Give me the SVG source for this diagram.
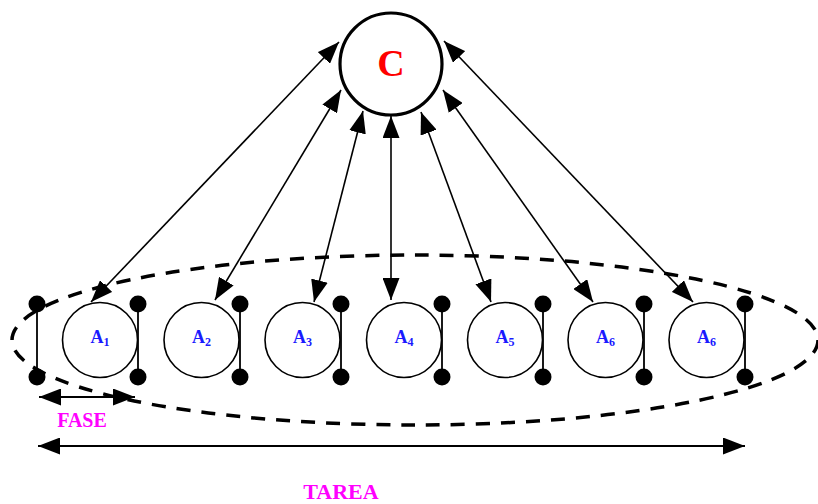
<svg xmlns="http://www.w3.org/2000/svg" width="818" height="504" viewBox="0 0 818 504">
  <style>
    .agent { fill: #ffffff; stroke: #000000; stroke-width: 1.6; }
    .bar { stroke: #000000; stroke-width: 1.8; }
    .dot { fill: #000000; }
    .alabel { font-family: "Liberation Serif", "Times New Roman", serif; font-weight: bold; fill: #1a1aff; font-size: 18px; }
    .sub { font-size: 12px; }
    .link { stroke: #000000; stroke-width: 1.6; fill: none; marker-start: url(#head); marker-end: url(#head); }
    .span { stroke: #000000; stroke-width: 2; fill: none; marker-start: url(#head); marker-end: url(#head); }
    .caption { font-family: "Liberation Serif", "Times New Roman", serif; font-weight: bold; fill: #ff00ff; }
  </style>
  <defs>
    <marker id="head" markerUnits="userSpaceOnUse" markerWidth="22" markerHeight="17" refX="22" refY="8.5" orient="auto-start-reverse">
      <path d="M0,0 L22,8.5 L0,17 z" fill="#000000"/>
    </marker>
  </defs>

  <rect width="818" height="504" fill="#ffffff"/>

  <!-- task boundary -->
  <ellipse cx="415" cy="340" rx="403" ry="85" fill="none" stroke="#000000" stroke-width="3.5" stroke-dasharray="14 11"/>

  <!-- phase separators -->
  <g id="separators">
    <line class="bar" x1="37" y1="304" x2="37" y2="377"/>
    <circle class="dot" cx="37" cy="304" r="8.5"/><circle class="dot" cx="37" cy="377" r="8.5"/>
    <line class="bar" x1="138" y1="304" x2="138" y2="377"/>
    <circle class="dot" cx="138" cy="304" r="8.5"/><circle class="dot" cx="138" cy="377" r="8.5"/>
    <line class="bar" x1="240" y1="304" x2="240" y2="377"/>
    <circle class="dot" cx="240" cy="304" r="8.5"/><circle class="dot" cx="240" cy="377" r="8.5"/>
    <line class="bar" x1="341" y1="304" x2="341" y2="377"/>
    <circle class="dot" cx="341" cy="304" r="8.5"/><circle class="dot" cx="341" cy="377" r="8.5"/>
    <line class="bar" x1="442" y1="304" x2="442" y2="377"/>
    <circle class="dot" cx="442" cy="304" r="8.5"/><circle class="dot" cx="442" cy="377" r="8.5"/>
    <line class="bar" x1="543" y1="304" x2="543" y2="377"/>
    <circle class="dot" cx="543" cy="304" r="8.5"/><circle class="dot" cx="543" cy="377" r="8.5"/>
    <line class="bar" x1="644" y1="304" x2="644" y2="377"/>
    <circle class="dot" cx="644" cy="304" r="8.5"/><circle class="dot" cx="644" cy="377" r="8.5"/>
    <line class="bar" x1="745" y1="304" x2="745" y2="377"/>
    <circle class="dot" cx="745" cy="304" r="8.5"/><circle class="dot" cx="745" cy="377" r="8.5"/>
  </g>

  <!-- connectors between coordinator and agents -->
  <g id="connectors">
    <line class="link" x1="339" y1="42" x2="91" y2="302"/>
    <line class="link" x1="341" y1="90" x2="215" y2="300"/>
    <line class="link" x1="363" y1="111" x2="314" y2="302"/>
    <line class="link" x1="391" y1="116" x2="391" y2="300"/>
    <line class="link" x1="421" y1="112" x2="491" y2="302"/>
    <line class="link" x1="443" y1="90" x2="593" y2="302"/>
    <line class="link" x1="444" y1="41" x2="693" y2="302"/>
  </g>

  <!-- coordinator -->
  <g id="C">
    <circle cx="391" cy="64" r="51" fill="#ffffff" stroke="#000000" stroke-width="3.2"/>
    <text x="391" y="76" text-anchor="middle" font-family="Liberation Serif, Times New Roman, serif" font-weight="bold" font-size="38" fill="#ff0000">C</text>
  </g>

  <!-- agents -->
  <g id="A1">
    <circle class="agent" cx="100" cy="340" r="37.5"/>
    <text class="alabel" x="100" y="343" text-anchor="middle">A<tspan class="sub" dy="3">1</tspan></text>
  </g>
  <g id="A2">
    <circle class="agent" cx="201.5" cy="340" r="37.5"/>
    <text class="alabel" x="201.5" y="343" text-anchor="middle">A<tspan class="sub" dy="3">2</tspan></text>
  </g>
  <g id="A3">
    <circle class="agent" cx="302.5" cy="340" r="37.5"/>
    <text class="alabel" x="302.5" y="343" text-anchor="middle">A<tspan class="sub" dy="3">3</tspan></text>
  </g>
  <g id="A4">
    <circle class="agent" cx="404" cy="340" r="37.5"/>
    <text class="alabel" x="404" y="343" text-anchor="middle">A<tspan class="sub" dy="3">4</tspan></text>
  </g>
  <g id="A5">
    <circle class="agent" cx="505" cy="340" r="37.5"/>
    <text class="alabel" x="505" y="343" text-anchor="middle">A<tspan class="sub" dy="3">5</tspan></text>
  </g>
  <g id="A6a">
    <circle class="agent" cx="605.5" cy="340" r="37.5"/>
    <text class="alabel" x="605.5" y="343" text-anchor="middle">A<tspan class="sub" dy="3">6</tspan></text>
  </g>
  <g id="A6b">
    <circle class="agent" cx="706.5" cy="340" r="37.5"/>
    <text class="alabel" x="706.5" y="343" text-anchor="middle">A<tspan class="sub" dy="3">6</tspan></text>
  </g>

  <!-- extents -->
  <g id="fase">
    <line class="span" x1="39" y1="397" x2="135" y2="397"/>
    <text class="caption" x="82" y="427" text-anchor="middle" font-size="20">FASE</text>
  </g>
  <g id="tarea">
    <line class="span" x1="38" y1="446" x2="745" y2="446"/>
    <text class="caption" x="341" y="499" text-anchor="middle" font-size="22">TAREA</text>
  </g>
</svg>
